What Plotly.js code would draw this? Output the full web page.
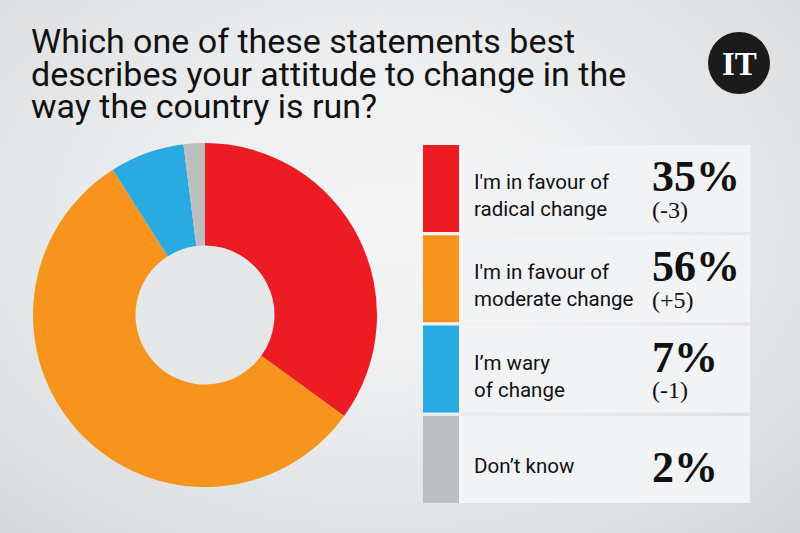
<!DOCTYPE html>
<html>
<head>
<meta charset="utf-8">
<script src="https://cdn.plot.ly/plotly-3.0.1.min.js"></script>
<style>
  html, body { margin:0; padding:0; }
  body { width:800px; height:533px; overflow:hidden;
    background: radial-gradient(ellipse 75% 80% at 48% 42%, #f5f5f6 0%, #eeeff0 35%, #e2e3e5 70%, #d5d6d8 100%); }
  #chart { width:800px; height:533px; }
</style>
</head>
<body>
<div id="chart"></div>
<script>
// ---- data ----
const titleLines = [
  "Which one of these statements best",
  "describes your attitude to change in the",
  "way the country is run?"
];
const categories = [
  "I'm in favour of radical change",
  "I'm in favour of moderate change",
  "I\u2019m wary of change",
  "Don\u2019t know"
];
const categoryLines = [
  "I'm in favour of<br>radical change",
  "I'm in favour of<br>moderate change",
  "I\u2019m wary<br>of change",
  "Don\u2019t know"
];
const values = [35, 56, 7, 2];
const changes = ["(-3)", "(+5)", "(-1)", ""];
const colors = ["#ed1c24", "#f7941d", "#29abe2", "#bcbec0"];
const logoText = "IT";

// ---- layout helpers ----
const W = 800, H = 533;
const px = x => x / W;
const py = y => 1 - y / H;

const cx = 205, cy = 315, R = 172, holeFrac = 0.404;

const trace = {
  type: 'pie',
  labels: categories,
  values: values,
  marker: { colors: colors, line: { width: 0 } },
  hole: holeFrac,
  sort: false,
  direction: 'clockwise',
  rotation: 0,
  textinfo: 'none',
  hoverinfo: 'label+percent',
  showlegend: false,
  domain: { x: [px(cx - R), px(cx + R)], y: [py(cy + R), py(cy - R)] }
};

const shapes = [];
const annotations = [];

// hole fill
const hr = R * holeFrac;
shapes.push({ type: 'circle', xref: 'paper', yref: 'paper', layer: 'below',
  x0: px(cx - hr), x1: px(cx + hr), y0: py(cy + hr), y1: py(cy - hr),
  fillcolor: '#e6e7e9', line: { width: 0 } });

// title
const titleFont = { family: 'Roboto, "Noto Sans", sans-serif', size: 34, color: '#111111' };
const titleCenters = [41, 74, 106];
titleLines.forEach((t, i) => {
  annotations.push({ text: t, xref: 'paper', yref: 'paper', x: px(29), y: py(titleCenters[i]),
    xanchor: 'left', yanchor: 'middle', showarrow: false, align: 'left', font: titleFont });
});

// logo
shapes.push({ type: 'circle', xref: 'paper', yref: 'paper',
  x0: px(739 - 31), x1: px(739 + 31), y0: py(63 + 31), y1: py(63 - 31),
  fillcolor: '#1b1b1b', line: { width: 0 } });
annotations.push({ text: logoText, xref: 'paper', yref: 'paper', x: px(739), y: py(64),
  xanchor: 'center', yanchor: 'middle', showarrow: false,
  font: { family: '"Liberation Serif", "DejaVu Serif", serif', size: 33, color: '#ffffff', weight: 'bold' } });

// legend table
const rowTop0 = 145, rowStep = 90.3, rowH = 87;
categories.forEach((c, i) => {
  const top = rowTop0 + i * rowStep, bot = top + rowH, mid = top + rowH / 2;
  shapes.push({ type: 'rect', xref: 'paper', yref: 'paper', layer: 'below',
    x0: px(423), x1: px(459), y0: py(bot), y1: py(top), fillcolor: colors[i], line: { width: 0 } });
  shapes.push({ type: 'rect', xref: 'paper', yref: 'paper', layer: 'below',
    x0: px(459), x1: px(750), y0: py(bot), y1: py(top), fillcolor: '#f2f3f5', line: { width: 0 } });
  annotations.push({ text: categoryLines[i], xref: 'paper', yref: 'paper', x: px(472), y: py(mid + 7),
    xanchor: 'left', yanchor: 'middle', showarrow: false, align: 'left',
    font: { family: 'Roboto, "Noto Sans", sans-serif', size: 20.5, color: '#111111' } });
  const hasChange = changes[i] !== "";
  annotations.push({ text: values[i] + '%', xref: 'paper', yref: 'paper', x: px(650),
    y: py(hasChange ? mid - 12 : mid + 8),
    xanchor: 'left', yanchor: 'middle', showarrow: false,
    font: { family: '"Liberation Serif", "DejaVu Serif", serif', size: 44, color: '#111111', weight: 'bold' } });
  if (hasChange) {
    annotations.push({ text: changes[i], xref: 'paper', yref: 'paper', x: px(650), y: py(mid + 21),
      xanchor: 'left', yanchor: 'middle', showarrow: false,
      font: { family: '"Liberation Serif", "DejaVu Serif", serif', size: 24, color: '#111111' } });
  }
});

const layout = {
  width: W, height: H,
  margin: { l: 0, r: 0, t: 0, b: 0 },
  paper_bgcolor: 'rgba(0,0,0,0)',
  plot_bgcolor: 'rgba(0,0,0,0)',
  showlegend: false,
  shapes: shapes,
  annotations: annotations
};

Plotly.newPlot('chart', [trace], layout, { displayModeBar: false });
</script>
</body>
</html>
